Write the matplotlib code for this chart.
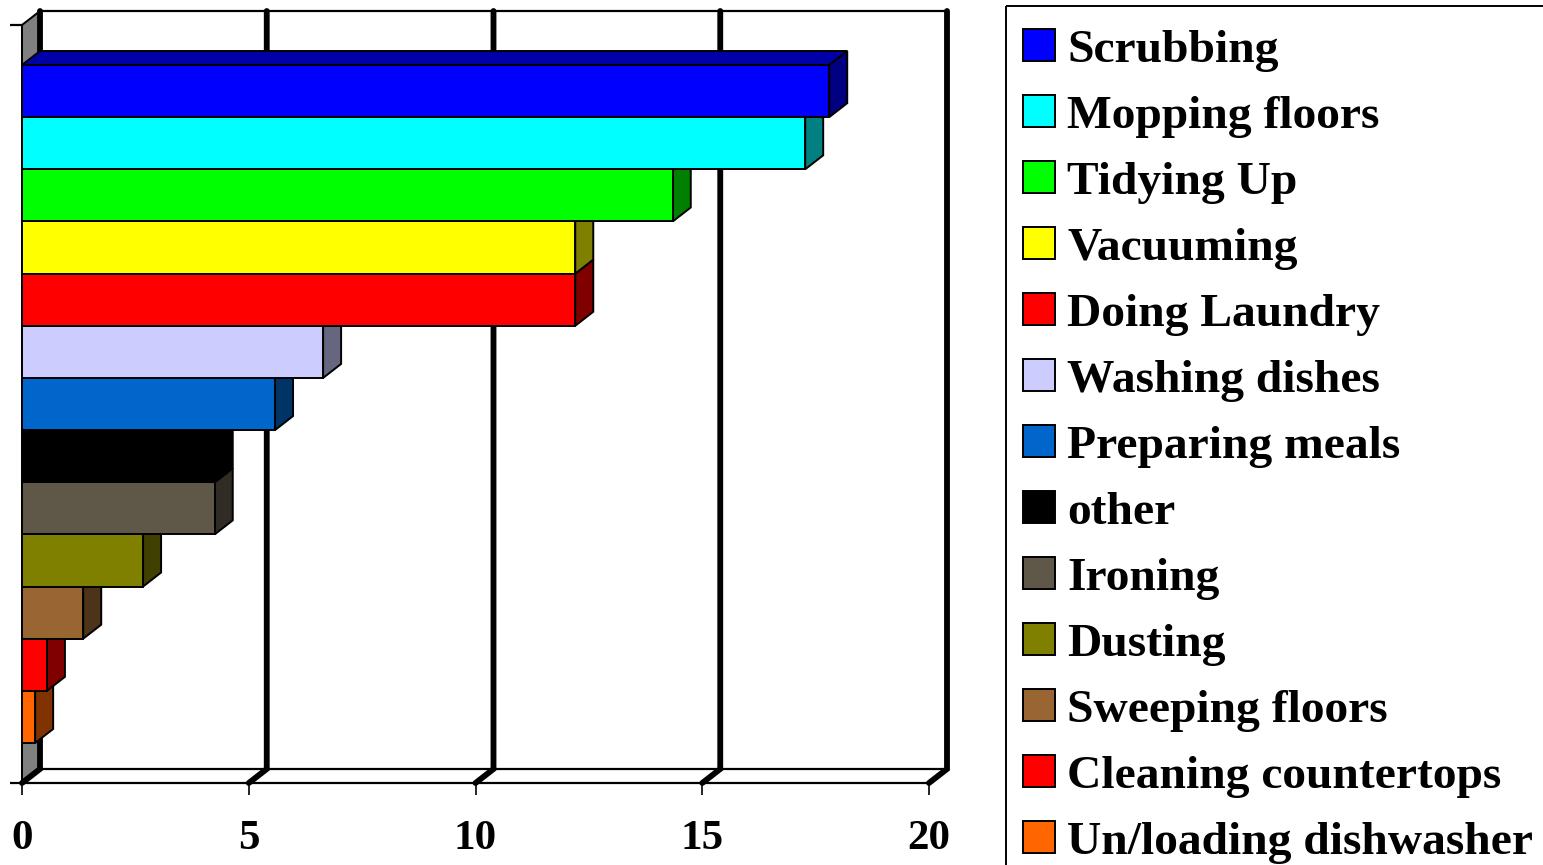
import matplotlib
matplotlib.use("Agg")
import matplotlib.pyplot as plt
from matplotlib.patches import Polygon, Rectangle

plt.rcParams["font.family"] = "Liberation Serif"
plt.rcParams["font.weight"] = "bold"

# Data
tasks = ["Scrubbing", "Mopping floors", "Tidying Up", "Vacuuming", "Doing Laundry",
         "Washing dishes", "Preparing meals", "other", "Ironing", "Dusting",
         "Sweeping floors", "Cleaning countertops", "Un/loading dishwasher"]
values = [17.8, 17.27, 14.35, 12.2, 12.2, 6.64, 5.58, 4.25, 4.25, 2.67, 1.35, 0.55, 0.29]
colors = ["#0000FF", "#00FFFF", "#00FF00", "#FFFF00", "#FF0000", "#CCCCFF", "#0066CC",
          "#000000", "#5F5849", "#808000", "#996633", "#FF0000", "#FF6600"]
x_ticks = [0, 5, 10, 15, 20]

W, H = 1543, 865
PX = 907 / 20      # pixels per value unit
ROW = 52.15        # pixels per bar
GAP = 40 / ROW     # space above the first and below the last bar
DX = 18 / PX       # 3d depth, in data units
DY = 14 / ROW


def shade(hex_color, f):
    r, g, b = matplotlib.colors.to_rgb(hex_color)
    return (r * f, g * f, b * f)


fig = plt.figure(figsize=(W / 100, H / 100), dpi=100, facecolor="white")
ax = fig.add_axes([22 / W, (H - 783) / H, 907 / W, 758 / H])
ax.set_xlim(0, 20)
ax.set_ylim(len(tasks) - 0.5 + GAP, -0.5 - GAP)
y_bottom, y_top = ax.get_ylim()

# left wall
ax.add_patch(Polygon([(0, y_top), (DX, y_top - DY), (DX, y_bottom - DY), (0, y_bottom)],
                     facecolor="#808080", edgecolor="black", lw=1.4, clip_on=False, zorder=1))

# back wall and floor
ax.plot([DX, 20 + DX], [y_top - DY, y_top - DY], color="black", lw=1.6, clip_on=False, zorder=1)
ax.plot([DX, 20 + DX], [y_bottom - DY, y_bottom - DY], color="black", lw=1.6, clip_on=False, zorder=1)
for t in x_ticks:
    ax.plot([t + DX, t + DX, t], [y_top - DY, y_bottom - DY, y_bottom], color="black", lw=4.2,
            solid_capstyle="round", solid_joinstyle="miter", clip_on=False, zorder=2)

# bars, bottom one first so upper bars cover the lower bars' tops
for i in range(len(tasks) - 1, -1, -1):
    v = values[i]
    top, bot = i - 0.5, i + 0.5
    ax.add_patch(Polygon([(0, top), (DX, top - DY), (v + DX, top - DY), (v, top)],
                         facecolor=shade(colors[i], 0.66), edgecolor="black", lw=1.4, clip_on=False, zorder=3))
    ax.add_patch(Polygon([(v, top), (v + DX, top - DY), (v + DX, bot - DY), (v, bot)],
                         facecolor=shade(colors[i], 0.5), edgecolor="black", lw=1.4, clip_on=False, zorder=3))
    ax.add_patch(Rectangle((0, top), v, 1, facecolor=colors[i], edgecolor="black", lw=1.4,
                           clip_on=False, zorder=3))

for side in ["top", "right"]:
    ax.spines[side].set_visible(False)
ax.spines["bottom"].set_linewidth(1.6)
ax.spines["left"].set_linewidth(1.4)
ax.patch.set_alpha(0)

ax.set_xticks(x_ticks)
ax.set_xticklabels([str(t) for t in x_ticks], fontsize=31, fontweight="bold")
ax.set_yticks([y_top, y_bottom])
ax.set_yticklabels([])
ax.tick_params(axis="x", length=8.6, width=1.2, pad=18)
ax.tick_params(axis="y", length=8.6, width=1.6)

# legend panel, drawn in pixel coordinates
leg = fig.add_axes([0, 0, 1, 1])
leg.set_xlim(0, W)
leg.set_ylim(H, 0)
leg.axis("off")
leg.patch.set_alpha(0)
leg.add_patch(Rectangle((1006, 6), 600, 900, facecolor="none", edgecolor="black", lw=1.4))
for i, task in enumerate(tasks):
    yc = 45 + 66 * i
    leg.add_patch(Rectangle((1023, yc - 16), 32, 32, facecolor=colors[i], edgecolor="black", lw=1.4))
    leg.text(1067, yc + 6, task, fontsize=34.2, fontweight="bold", va="center", ha="left", color="black")

fig.savefig("out.png", dpi=100)
